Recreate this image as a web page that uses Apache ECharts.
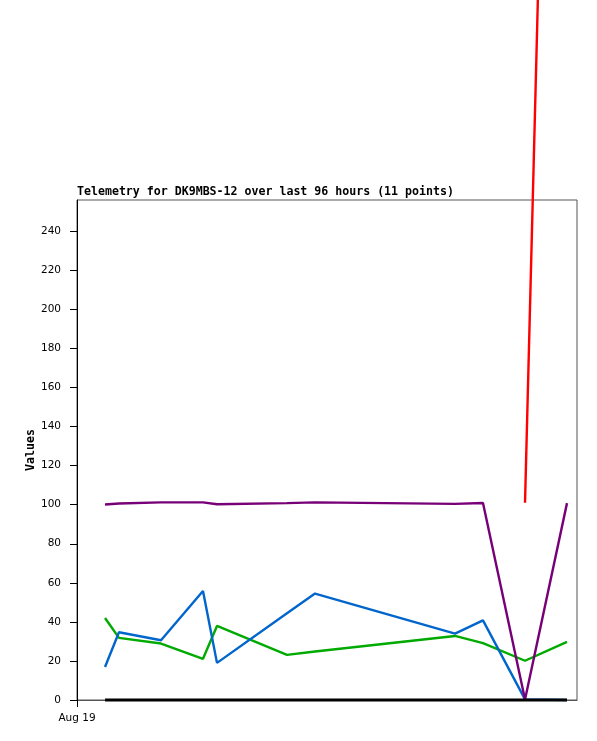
<!DOCTYPE html>
<html>
<head>
<meta charset="utf-8">
<script src="https://cdn.jsdelivr.net/npm/echarts@6/dist/echarts.min.js"></script>
<style>html,body{margin:0;padding:0;background:#fff}#c{width:597px;height:741px}</style>
</head>
<body>
<div id="c"></div>
<script>
// hours since window start (96-hour window)
const hours = [5.38, 8.06, 16.13, 24.19, 26.88, 40.32, 45.70, 72.58, 77.95, 86.02, 94.08];
const blueVals = [16.9, 34.7, 30.6, 55.8, 19.0, 44.4, 54.5, 34.0, 40.8, 0.3, 0];
const greenVals = [42.0, 31.8, 28.9, 21.1, 37.9, 23.1, 24.8, 32.8, 29.1, 20.1, 29.8];
const purpleVals = [100.1, 100.6, 101.2, 101.2, 100.2, 100.8, 101.2, 100.4, 100.9, 0.3, 100.8];
const redVals = [null, null, null, null, null, null, null, null, null, 101.0, 943];
const blackVals = [0, 0, 0, 0, 0, 0, 0, 0, 0, 0, 0];
const yTicks = [0, 20, 40, 60, 80, 100, 120, 140, 160, 180, 200, 220, 240];
const xTicks = [0];
const xTickLabels = ['Aug 19'];
const titleText = 'Telemetry for DK9MBS-12 over last 96 hours (11 points)';

const pair = v => hours.map((h, i) => [h, v[i]]);
const mk = (vals, color, w) => ({
  type: 'line', data: pair(vals), symbol: 'none', clip: false,
  lineStyle: { color: color, width: w }, itemStyle: { color: color },
  connectNulls: false, animation: false
});

const chart = echarts.init(document.getElementById('c'), null, { renderer: 'canvas' });
chart.setOption({
  animation: false,
  backgroundColor: '#fff',
  title: {
    text: titleText, left: 72, top: 181,
    textStyle: { fontFamily: 'DejaVu Sans Mono', fontWeight: 'bold', fontSize: 11.6, color: '#000' }
  },
  grid: { left: 77, top: 200, width: 500, height: 500, show: true, borderColor: '#555', borderWidth: 1, backgroundColor: 'transparent' },
  xAxis: {
    type: 'value', min: 0, max: 96,
    axisLine: { show: true, lineStyle: { color: '#555', width: 1 } },
    axisTick: { show: true, length: 7, customValues: xTicks, lineStyle: { color: '#000' } },
    axisLabel: { customValues: xTicks, margin: 13, formatter: v => xTickLabels[xTicks.indexOf(v)] || '',
      fontFamily: 'DejaVu Sans', fontSize: 10.5, color: '#000' },
    splitLine: { show: false }
  },
  yAxis: {
    type: 'value', min: 0, max: 256,
    name: 'Values', nameLocation: 'middle', nameRotate: 90, nameGap: 40, nameMoveOverlap: false,
    nameTextStyle: { fontFamily: 'DejaVu Sans Mono', fontWeight: 'bold', fontSize: 11.6, color: '#000' },
    axisLine: { show: true, lineStyle: { color: '#000', width: 1 } },
    axisTick: { show: true, length: 7, customValues: yTicks, lineStyle: { color: '#000' } },
    axisLabel: { customValues: yTicks, margin: 16, fontFamily: 'DejaVu Sans', fontSize: 10.5, color: '#000' },
    splitLine: { show: false }
  },
  series: [
    mk(greenVals, '#00AA00', 2.4),
    mk(blueVals, '#0066CC', 2.4),
    mk(purpleVals, '#770077', 2.4),
    mk(redVals, '#FF0000', 2.4),
    mk(blackVals, '#000000', 3)
  ]
});
</script>
</body>
</html>
